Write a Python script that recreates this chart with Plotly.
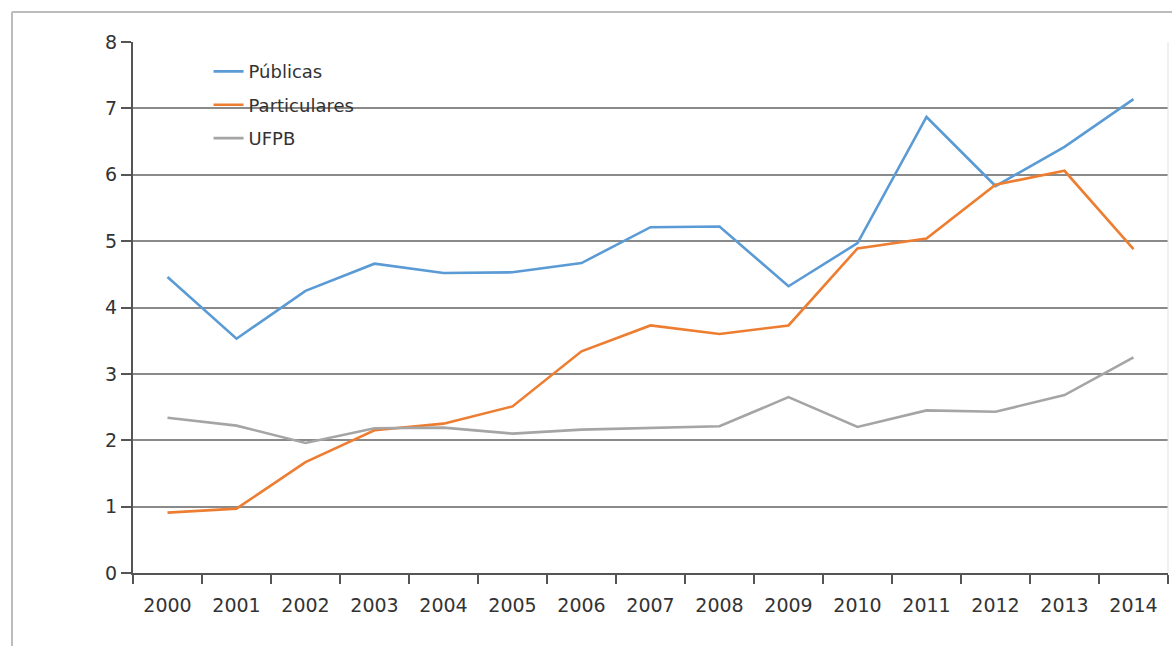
import plotly.graph_objects as go

# Anos e séries
anos = [str(a) for a in range(2000, 2015)]
publicas = [4.46, 3.53, 4.25, 4.66, 4.52, 4.53, 4.67, 5.21, 5.22, 4.32, 4.97, 6.87, 5.83, 6.42, 7.14]
particulares = [0.91, 0.97, 1.67, 2.15, 2.25, 2.51, 3.34, 3.73, 3.60, 3.73, 4.89, 5.04, 5.85, 6.06, 4.88]
ufpb = [2.34, 2.22, 1.96, 2.18, 2.19, 2.10, 2.16, 2.18, 2.21, 2.65, 2.20, 2.45, 2.43, 2.68, 3.25]

series = [
    ("Públicas", publicas, "#5b9bd5"),
    ("Particulares", particulares, "#ed7d31"),
    ("UFPB", ufpb, "#a5a5a5"),
]

W, H = 1172, 646
ML, MR, MT, MB = 133, 4, 42, 73
FONT = "DejaVu Sans, Open Sans, sans-serif"

fig = go.Figure()
for nome, vals, cor in series:
    fig.add_trace(go.Scatter(
        x=anos, y=vals, name=nome, mode="lines", legendgroup=nome,
        line=dict(color=cor, width=2.6),
    ))

# Moldura externa (topo e lado esquerdo)
pw, ph = W - ML - MR, H - MT - MB
def px_x(p):
    return (p - ML) / pw
def px_y(p):
    return (H - MB - p) / ph

frame = dict(color="#bcbcbc", width=2)
fig.add_shape(type="line", xref="paper", yref="paper",
              x0=px_x(12), x1=px_x(1172), y0=px_y(12), y1=px_y(12), line=frame)
fig.add_shape(type="line", xref="paper", yref="paper",
              x0=px_x(12), x1=px_x(12), y0=px_y(12), y1=px_y(646), line=frame)
# Borda direita suave da área do gráfico
fig.add_shape(type="line", xref="paper", yref="paper",
              x0=1, x1=1, y0=0, y1=1, line=dict(color="#e0e0e0", width=1))

fig.update_layout(
    width=W, height=H,
    margin=dict(l=ML, r=MR, t=MT, b=MB),
    paper_bgcolor="white", plot_bgcolor="white",
    font=dict(family=FONT, size=18, color="#333333"),
    showlegend=True,
    legend=dict(
        x=0.073, y=0.979, xanchor="left", yanchor="top",
        bgcolor="rgba(0,0,0,0)", font=dict(family=FONT, size=18, color="#333333"),
        traceorder="grouped", tracegroupgap=7, itemwidth=30,
    ),
    xaxis=dict(
        type="category", range=[-0.5, 14.5],
        showline=True, linecolor="#555555", linewidth=2,
        ticks="outside", tickson="boundaries", ticklen=9, tickwidth=2, tickcolor="#555555",
        showgrid=False, zeroline=False, ticklabelstandoff=14,
        tickfont=dict(family=FONT, size=19, color="#333333"),
    ),
    yaxis=dict(
        range=[0, 8], dtick=1, tick0=0,
        showline=True, linecolor="#555555", linewidth=2,
        ticks="outside", ticklen=10, tickwidth=2, tickcolor="#555555",
        showgrid=True, gridcolor="#8a8a8a", gridwidth=2,
        zeroline=False, ticklabelstandoff=0,
        tickfont=dict(family=FONT, size=19, color="#333333"),
    ),
)

fig.write_html("out.html")
